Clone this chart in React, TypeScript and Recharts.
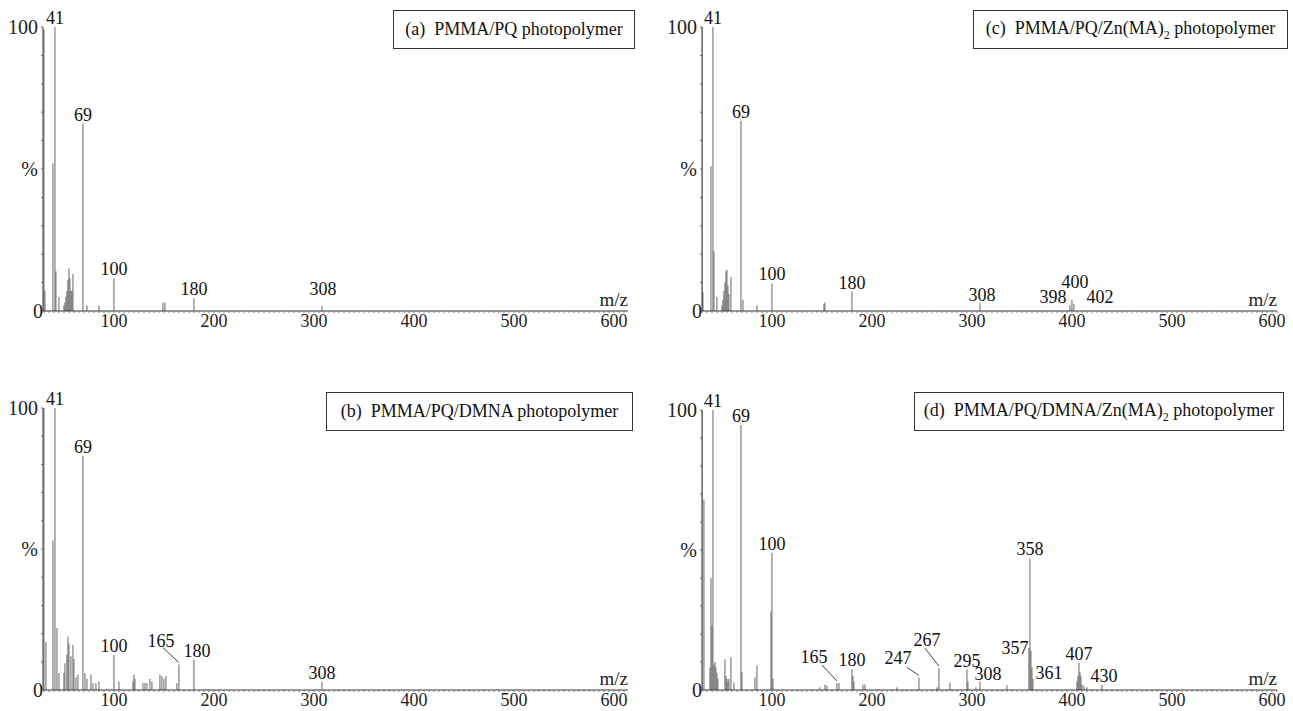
import React from 'react';
import { BarChart, Bar, XAxis, YAxis, LabelList } from 'recharts';

// (a) PMMA/PQ photopolymer
const mzA = [30, 31, 39, 41, 42, 45, 50, 51, 52, 53, 54, 55, 56, 57, 58, 59, 69, 73, 85, 100, 149, 151, 180, 308];
const intA = [99, 7, 52, 100, 14, 5, 2, 3, 5, 7, 11, 15, 11.5, 7, 7, 13, 66, 2, 2, 11.5, 3, 3, 4.5, 1.8];
const tagsA = [41, 69, 100, 180, 308];

// (b) PMMA/PQ/DMNA photopolymer
const mzB = [30, 32, 39, 41, 43, 45, 50, 51, 53, 54, 55, 57, 59, 60, 62, 64, 69, 71, 73, 77, 79, 82, 85, 100, 105, 119, 120, 121, 129, 131, 133, 136, 138, 146, 148, 150, 152, 163, 165, 180, 308];
const intB = [100, 17, 53, 100, 22, 6, 6, 9.5, 12.5, 19, 16.5, 12, 16, 11, 4.5, 5.5, 83, 6, 4, 5.5, 2.5, 2.5, 3, 12.4, 3, 3, 5.5, 4, 2.5, 2.5, 2.5, 4, 3, 5.5, 5, 4, 5, 2.5, 9, 10.6, 3];
const tagsB = [41, 69, 100, 165, 180, 308];

// (c) PMMA/PQ/Zn(MA)2 photopolymer
const mzC = [30, 31, 39, 41, 42, 45, 50, 51, 52, 53, 54, 55, 56, 57, 59, 69, 71, 85, 100, 152, 153, 180, 308, 398, 400, 402];
const intC = [100, 6.5, 51, 100, 21, 5, 2, 4, 7, 10, 14, 14.5, 9, 6, 12, 67, 4, 2, 9.7, 2.5, 3, 6.8, 2.7, 2, 4, 2.5];
const tagsC = [41, 69, 100, 180, 308, 398, 400, 402];

// (d) PMMA/PQ/DMNA/Zn(MA)2 photopolymer
const mzD = [30, 32, 38, 39, 40, 41, 42, 43, 44, 45, 46, 53, 54, 55, 56, 57, 59, 62, 69, 70, 83, 85, 99, 100, 101, 148, 153, 155, 165, 167, 180, 181, 182, 191, 193, 225, 247, 265, 267, 278, 295, 296, 304, 308, 335, 357, 358, 359, 360, 361, 405, 406, 407, 408, 409, 410, 412, 415, 430];
const intD = [100, 68, 8, 40, 23, 100, 9, 10, 8, 6, 4, 11, 5, 4, 3, 4, 11.7, 2.7, 94.6, 6.3, 4.5, 8.7, 28, 49, 4, 1, 2, 1.5, 2.5, 2.5, 7.5, 5, 3, 2, 2, 1, 4.5, 1, 7.8, 2.7, 7.3, 3, 1, 3, 1.8, 15, 47, 14, 8, 4, 3, 5, 9.6, 6.3, 5, 2, 1.5, 1, 1.8];
const tagsD = [41, 69, 100, 165, 180, 247, 267, 295, 308, 357, 358, 361, 407, 430];

const mzLabels = [100, 200, 300, 400, 500, 600];
const pctTicks = [0, 10, 20, 30, 40, 50, 60, 70, 80, 90, 100];

const FONT = '"Liberation Serif", "Times New Roman", serif';

interface Offset { dx: number; dy: number; lead?: [number, number] }

const buildData = (mz: number[], inten: number[], tags: number[]) =>
  mz.map((m, k) => ({ mz: m, i: inten[k], tag: tags.includes(m) ? String(m) : '' }));

const minorTicks = (from: number, to: number) => {
  const out: number[] = [];
  for (let v = Math.ceil(from / 5) * 5; v <= to; v += 5) out.push(v);
  return out;
};

const MzTick = (props: any) => {
  const { x, y, payload } = props;
  if (!mzLabels.includes(payload.value)) return null;
  return (
    <text x={x} y={y + 12} textAnchor="middle" fontSize={18} fontFamily={FONT} fill="#222">
      {payload.value}
    </text>
  );
};

const PctTick = (props: any) => {
  const { x, y, payload } = props;
  const v = payload.value;
  const text = v === 100 ? '100' : v === 50 ? '%' : v === 0 ? '0' : '';
  if (!text) return null;
  return (
    <text x={v === 0 ? x + 4 : x - 1} y={y + 7} textAnchor="end" fontSize={20} fontFamily={FONT} fill="#222">
      {text}
    </text>
  );
};

const makeLabel = (offsets: Record<number, Offset>) => (props: any) => {
  const vb = props.viewBox || props;
  const { x, y, width } = vb;
  const value = props.value;
  if (!value) return null;
  const cx = x + width / 2;
  const o = offsets[Number(value)] || { dx: 0, dy: -3 };
  return (
    <g>
      {o.lead && (
        <line x1={cx + o.lead[0]} y1={y + o.lead[1]} x2={cx} y2={y - 2} stroke="#444" strokeWidth={1} />
      )}
      <text x={cx + o.dx} y={y + o.dy} textAnchor="middle" fontSize={18} fontFamily={FONT} fill="#111">
        {value}
      </text>
    </g>
  );
};

interface PanelProps {
  data: { mz: number; i: number; tag: string }[];
  left: number;
  top: number;
  width: number;
  height: number;
  domain: [number, number];
  offsets: Record<number, Offset>;
}

const PAD_TOP = 25;
const PAD_RIGHT = 20;
const AXIS_W = 43;
const AXIS_H = 40;

const Panel = ({ data, left, top, width, height, domain, offsets }: PanelProps) => (
  <div style={{ position: 'absolute', left: left - AXIS_W, top: top - PAD_TOP }}>
    <BarChart
      width={width + AXIS_W + PAD_RIGHT}
      height={height + PAD_TOP + AXIS_H}
      data={data}
      margin={{ top: PAD_TOP, right: PAD_RIGHT, bottom: 0, left: 0 }}
      barGap={0}
      barCategoryGap={0}
    >
      <XAxis
        type="number"
        dataKey="mz"
        domain={domain}
        ticks={minorTicks(domain[0], domain[1])}
        interval={0}
        allowDataOverflow
        height={AXIS_H}
        tickSize={2}
        tickMargin={2}
        stroke="#333"
        tickLine={{ stroke: '#777' }}
        tick={<MzTick />}
        label={(p: any) => {
          const vb = p.viewBox || {};
          return (
            <text x={vb.x + vb.width} y={vb.y - 5} textAnchor="end" fontSize={19} fontFamily={FONT} fill="#222">
              m/z
            </text>
          );
        }}
      />
      <YAxis
        type="number"
        domain={[0, 100]}
        ticks={pctTicks}
        interval={0}
        allowDataOverflow
        width={AXIS_W}
        tickSize={2}
        tickMargin={2}
        stroke="#333"
        tickLine={{ stroke: '#666' }}
        tick={<PctTick />}
      />
      <Bar dataKey="i" fill="#555" barSize={1} isAnimationActive={false}>
        <LabelList dataKey="tag" content={makeLabel(offsets)} />
      </Bar>
    </BarChart>
  </div>
);

const TitleBox = ({ left, top, width, children }: any) => (
  <div
    style={{
      position: 'absolute',
      left,
      top,
      width,
      height: 39,
      boxSizing: 'border-box',
      border: '1px solid #333',
      background: '#fff',
      fontFamily: FONT,
      fontSize: 18,
      color: '#111',
      display: 'flex',
      alignItems: 'center',
      justifyContent: 'center',
      whiteSpace: 'pre',
    }}
  >
    <span>{children}</span>
  </div>
);

const sub = { fontSize: 12, verticalAlign: 'sub', lineHeight: 1 } as React.CSSProperties;

const offsetsA: Record<number, Offset> = { 308: { dx: 1, dy: -11 } };
const offsetsB: Record<number, Offset> = {
  165: { dx: -18, dy: -18, lead: [-16, -17] },
  180: { dx: 3, dy: -3 },
};
const offsetsC: Record<number, Offset> = {
  308: { dx: 2, dy: -2 },
  398: { dx: -17, dy: -2 },
  400: { dx: 3, dy: -12 },
  402: { dx: 26, dy: -1 },
};
const offsetsD: Record<number, Offset> = {
  165: { dx: -23, dy: -20, lead: [-15, -18] },
  247: { dx: -21, dy: -13, lead: [-12, -10] },
  267: { dx: -12, dy: -22, lead: [-14, -20] },
  308: { dx: 8, dy: -2 },
  357: { dx: -14, dy: 6 },
  361: { dx: 16, dy: 0 },
  430: { dx: 2, dy: -3 },
};

export default function App() {
  return (
    <div
      style={{
        position: 'absolute',
        left: 0,
        top: 0,
        width: 1293,
        height: 711,
        overflow: 'hidden',
        background: '#fff',
        fontFamily: FONT,
      }}
    >
      <Panel data={buildData(mzA, intA, tagsA)} left={43} top={27} width={585} height={284} domain={[29, 614]} offsets={offsetsA} />
      <Panel data={buildData(mzB, intB, tagsB)} left={43} top={408} width={585} height={282} domain={[29, 614]} offsets={offsetsB} />
      <Panel data={buildData(mzC, intC, tagsC)} left={702} top={27} width={575} height={284} domain={[30, 605]} offsets={offsetsC} />
      <Panel data={buildData(mzD, intD, tagsD)} left={702} top={410} width={575} height={280} domain={[30, 605]} offsets={offsetsD} />

      <TitleBox left={393} top={10} width={242}>(a)  PMMA/PQ photopolymer</TitleBox>
      <TitleBox left={326} top={392} width={307}>(b)  PMMA/PQ/DMNA photopolymer</TitleBox>
      <TitleBox left={973} top={10} width={315}>
        (c)  PMMA/PQ/Zn(MA)<span style={sub}>2</span> photopolymer
      </TitleBox>
      <TitleBox left={914} top={392} width={370}>
        (d)  PMMA/PQ/DMNA/Zn(MA)<span style={sub}>2</span> photopolymer
      </TitleBox>
    </div>
  );
}
